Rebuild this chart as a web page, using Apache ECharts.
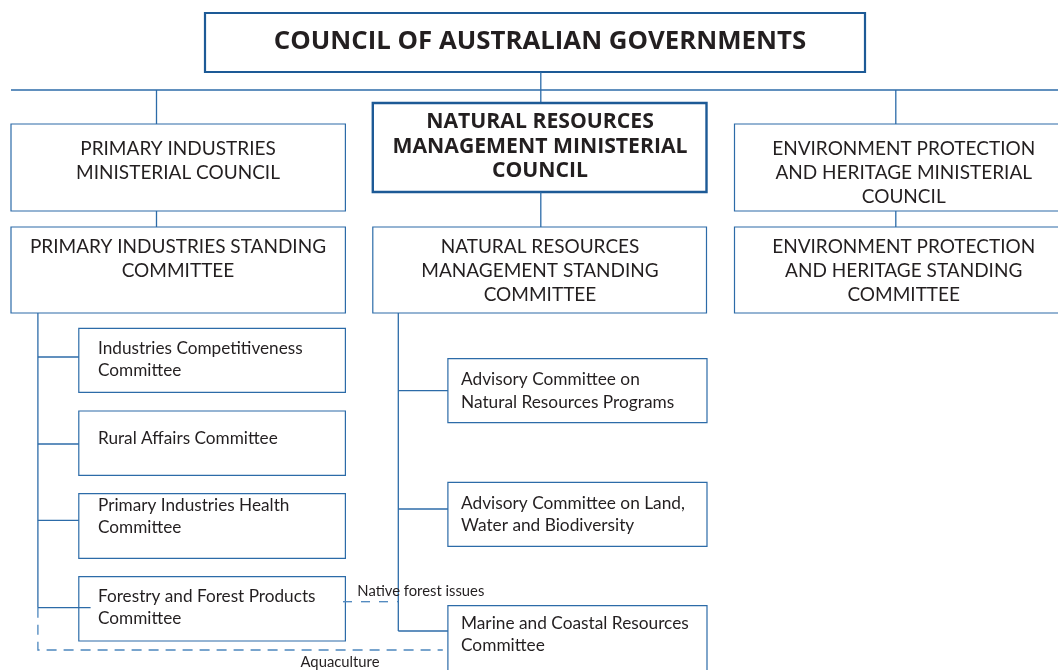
<!DOCTYPE html>
<html><head><meta charset="utf-8">
<script src="https://cdn.jsdelivr.net/npm/echarts@6/dist/echarts.min.js"></script>
<style>html,body{margin:0;padding:0;background:#fff}#c{width:1058px;height:670px}</style>
</head><body><div id="c"></div>
<script>
// ---------- content ----------
const topBody = ['COUNCIL OF AUSTRALIAN GOVERNMENTS'];
const ministerialCouncils = [
  ['PRIMARY INDUSTRIES', 'MINISTERIAL COUNCIL'],
  ['NATURAL RESOURCES', 'MANAGEMENT MINISTERIAL', 'COUNCIL'],
  ['ENVIRONMENT PROTECTION', 'AND HERITAGE MINISTERIAL', 'COUNCIL']
];
const standingCommittees = [
  ['PRIMARY INDUSTRIES STANDING', 'COMMITTEE'],
  ['NATURAL RESOURCES', 'MANAGEMENT STANDING', 'COMMITTEE'],
  ['ENVIRONMENT PROTECTION', 'AND HERITAGE STANDING', 'COMMITTEE']
];
const primaryIndustriesCommittees = [
  ['Industries Competitiveness', 'Committee'],
  ['Rural Affairs Committee'],
  ['Primary Industries Health', 'Committee'],
  ['Forestry and Forest Products', 'Committee']
];
const nrmCommittees = [
  ['Advisory Committee on', 'Natural Resources Programs'],
  ['Advisory Committee on Land,', 'Water and Biodiversity'],
  ['Marine and Coastal Resources', 'Committee']
];
const crossLinks = ['Native forest issues', 'Aquaculture'];

// ---------- layout & style ----------
const FONT = 'Lato';
const BOLDFONT = 'Open Sans';
const TXT = '#231f20';
const DARK = '#1d5a96';
const MID = '#2c6ba8';
const DASH = '#4c86bd';

const shapes = [];
function box(x0, y0, x1, y1, lw, color) {
  shapes.push({ kind: 'rect', x0, y0, x1, y1, lw, color });
}
function textLines(lines, x, y0, lh, size, weight, align, family) {
  lines.forEach((t, i) => shapes.push({ kind: 'text', text: t, x, y: y0 + i * lh, size, weight, align, family: family || FONT }));
}
function seg(pts, lw, color, dash) {
  shapes.push({ kind: 'line', pts, lw, color, dash });
}

// top body
box(205, 13, 865, 72, 2.2, DARK);
textLines(topBody, 540, 41.5, 24, 25.8, 'bold', 'center', BOLDFONT);

// trunk connectors
seg([[540.8, 72], [540.8, 90]], 1.3, MID);
seg([[11, 90], [1058, 90]], 1.3, MID);
seg([[156.5, 90], [156.5, 124]], 1.3, MID);
seg([[540.8, 90], [540.8, 103]], 1.3, MID);
seg([[895.8, 90], [895.8, 124]], 1.3, MID);

// ministerial councils
const colX = [[11, 345.4], [372.8, 706.5], [734.5, 1073]];
const colCx = [178, 540, 903.7];
const minY = [[124, 211], [103, 192], [124, 211]];
const minTextY = [148.5, 122.3, 148.5];
ministerialCouncils.forEach((lines, i) => {
  const bold = i === 1;
  box(colX[i][0], minY[i][0], colX[i][1], minY[i][1], bold ? 2.4 : 1.2, bold ? DARK : MID);
  if (bold) textLines(lines, colCx[i], minTextY[i], 24.3, 21.2, 'bold', 'center', BOLDFONT);
  else textLines(lines, colCx[i], minTextY[i], 24, 19, 'normal', 'center');
});
// council -> standing connectors
seg([[156.5, 211], [156.5, 227]], 1.3, MID);
seg([[540.8, 192], [540.8, 227]], 1.3, MID);
seg([[895.8, 211], [895.8, 227]], 1.3, MID);

// standing committees
standingCommittees.forEach((lines, i) => {
  box(colX[i][0], 227, colX[i][1], 313, 1.2, MID);
  textLines(lines, colCx[i], 246.7, 23.9, 19, 'normal', 'center');
});

// primary industries sub-committees
const piBoxY = [[328.3, 392.3], [411, 475.3], [493.7, 558.3], [576.7, 641]];
const piLinkY = [357, 444, 520.3, 607.7];
const piTextY = [348, 438.3, 505, 596];
seg([[37.9, 313], [37.9, 607.7]], 1.3, MID);
primaryIndustriesCommittees.forEach((lines, i) => {
  box(78.8, piBoxY[i][0], 345.4, piBoxY[i][1], 1.2, MID);
  seg([[37.9, piLinkY[i]], [i === 3 ? 90.6 : 78.8, piLinkY[i]]], 1.3, MID);
  textLines(lines, 98, piTextY[i], 22.3, 17.2, 'normal', 'left');
});

// NRM sub-committees
const nrmBoxY = [[358.7, 422.7], [482.3, 546.3], [605.7, 680]];
const nrmLinkY = [390.7, 509, 631];
const nrmTextY = [379.2, 503, 623];
seg([[398.3, 313], [398.3, 631]], 1.3, MID);
nrmCommittees.forEach((lines, i) => {
  box(447.9, nrmBoxY[i][0], 707, nrmBoxY[i][1], 1.2, MID);
  seg([[398.3, nrmLinkY[i]], [447.9, nrmLinkY[i]]], 1.3, MID);
  textLines(lines, 461, nrmTextY[i], 22.8, 17.3, 'normal', 'left');
});

// cross links (dashed)
seg([[343, 601.7], [398.3, 601.7]], 1.3, DASH, [9, 9]);
textLines([crossLinks[0]], 357.3, 591, 16, 14.8, 'normal', 'left');
seg([[37.9, 607.7], [37.9, 650], [442.8, 650]], 1.3, DASH, [10, 7]);
textLines([crossLinks[1]], 340, 662.5, 16, 14.8, 'normal', 'center');

// ---------- chart ----------
const chart = echarts.init(document.getElementById('c'), null, { renderer: 'canvas' });
chart.setOption({
  animation: false,
  backgroundColor: '#fff',
  grid: { left: 0, right: 0, top: 0, bottom: 0 },
  xAxis: { type: 'value', min: 0, max: 1058, show: false },
  yAxis: { type: 'value', min: 0, max: 670, inverse: true, show: false },
  series: [{
    type: 'custom',
    coordinateSystem: 'cartesian2d',
    clip: false,
    data: shapes.map((s, i) => [i]),
    renderItem: function (params, api) {
      const s = shapes[api.value(0)];
      if (s.kind === 'rect') {
        const p0 = api.coord([s.x0, s.y0]);
        const p1 = api.coord([s.x1, s.y1]);
        return { type: 'rect', shape: { x: p0[0], y: p0[1], width: p1[0] - p0[0], height: p1[1] - p0[1] },
          style: { fill: 'none', stroke: s.color, lineWidth: s.lw } };
      }
      if (s.kind === 'line') {
        return { type: 'polyline', shape: { points: s.pts.map(p => api.coord(p)) },
          style: { fill: 'none', stroke: s.color, lineWidth: s.lw, lineDash: s.dash || null } };
      }
      const p = api.coord([s.x, s.y]);
      return { type: 'text', x: p[0], y: p[1],
        style: { text: s.text, fill: TXT, fontFamily: s.family, fontSize: s.size, fontWeight: s.weight,
          align: s.align, verticalAlign: 'middle' } };
    }
  }]
});
</script>
</body></html>
